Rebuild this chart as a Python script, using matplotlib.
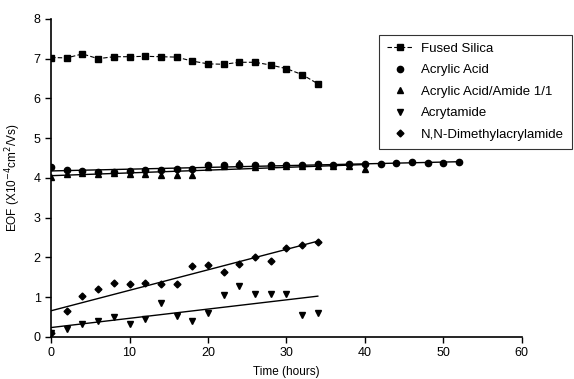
import numpy as np
import matplotlib
matplotlib.use("Agg")
import matplotlib.pyplot as plt

plt.rcParams['font.family'] = ['Liberation Sans', 'DejaVu Sans']

# time points (hours)
t_short = [0, 2, 4, 6, 8, 10, 12, 14, 16, 18, 20, 22, 24, 26, 28, 30, 32, 34]
t_acid = [0, 2, 4, 6, 8, 10, 12, 14, 16, 18, 20, 22, 24, 26, 28, 30, 32, 34,
          36, 38, 40, 42, 44, 46, 48, 50, 52]
t_mix = [0, 2, 4, 6, 8, 10, 12, 14, 16, 18, 20, 22, 24, 26, 28, 30, 32, 34,
         36, 38, 40]

fused_silica = [7.03, 7.02, 7.12, 7.0, 7.05, 7.05, 7.06, 7.05, 7.04, 6.94,
                6.87, 6.86, 6.91, 6.91, 6.84, 6.75, 6.6, 6.37]
acrylic_acid = [4.28, 4.2, 4.17, 4.15, 4.15, 4.17, 4.2, 4.21, 4.22, 4.23,
                4.33, 4.32, 4.33, 4.32, 4.33, 4.32, 4.33, 4.34, 4.33, 4.35,
                4.35, 4.34, 4.38, 4.39, 4.38, 4.38, 4.39]
acid_amide = [4.03, 4.1, 4.12, 4.1, 4.12, 4.1, 4.1, 4.07, 4.08, 4.07,
              4.28, 4.3, 4.37, 4.28, 4.3, 4.3, 4.3, 4.29, 4.3, 4.3, 4.22]
acrylamide = [0.1, 0.2, 0.32, 0.39, 0.49, 0.33, 0.45, 0.86, 0.53, 0.39,
              0.6, 1.06, 1.27, 1.08, 1.07, 1.07, 0.55, 0.6]
dma = [0.1, 0.66, 1.03, 1.21, 1.35, 1.33, 1.35, 1.33, 1.34, 1.79,
       1.8, 1.64, 1.83, 2.0, 1.91, 2.23, 2.31, 2.4]

fig = plt.figure(figsize=(5.74, 3.79), dpi=100)
ax = fig.add_axes([0.089, 0.111, 0.82, 0.839])

ax.plot(t_short, fused_silica, ls='--', lw=0.8, color='black', marker='s',
        ms=4, dashes=(4, 2), label='Fused Silica')
ax.plot(t_acid, acrylic_acid, ls='none', color='black', marker='o', ms=4.5,
        label='Acrylic Acid')
ax.plot(t_mix, acid_amide, ls='none', color='black', marker='^', ms=4.5,
        label='Acrylic Acid/Amide 1/1')
ax.plot(t_short, acrylamide, ls='none', color='black', marker='v', ms=4.5,
        label='Acrytamide')
ax.plot(t_short, dma, ls='none', color='black', marker='D', ms=3.5,
        label='N,N-Dimethylacrylamide')

# linear fits
for tt, yy in [(t_acid, acrylic_acid), (t_mix, acid_amide),
               (t_short, acrylamide), (t_short, dma)]:
    p = np.polyfit(tt, yy, 1)
    xs = np.array([0, tt[-1]])
    ax.plot(xs, np.polyval(p, xs), color='black', lw=1.0)

ax.set_xlim(0, 60)
ax.set_ylim(0, 8)
ax.set_xticks(range(0, 61, 10))
ax.set_yticks(range(0, 9))
for s in ['top', 'right']:
    ax.spines[s].set_visible(False)
ax.spines['left'].set_linewidth(1.2)
ax.spines['bottom'].set_linewidth(1.2)
ax.tick_params(direction='out', length=4, width=1, labelsize=9)
ax.set_xlabel('Time (hours)', fontsize=8.5, labelpad=5)
ax.set_ylabel('EOF (X10$^{-4}$cm$^2$/Vs)', fontsize=8.5, labelpad=8)

leg = ax.legend(loc='upper left', bbox_to_anchor=(0.696, 0.95), fontsize=9.5,
                frameon=True, fancybox=False, edgecolor='black',
                handlelength=2.0, handletextpad=0.6, borderpad=0.6,
                labelspacing=0.7, borderaxespad=0)
leg.get_frame().set_linewidth(0.8)

fig.savefig('out.png', dpi=100)
